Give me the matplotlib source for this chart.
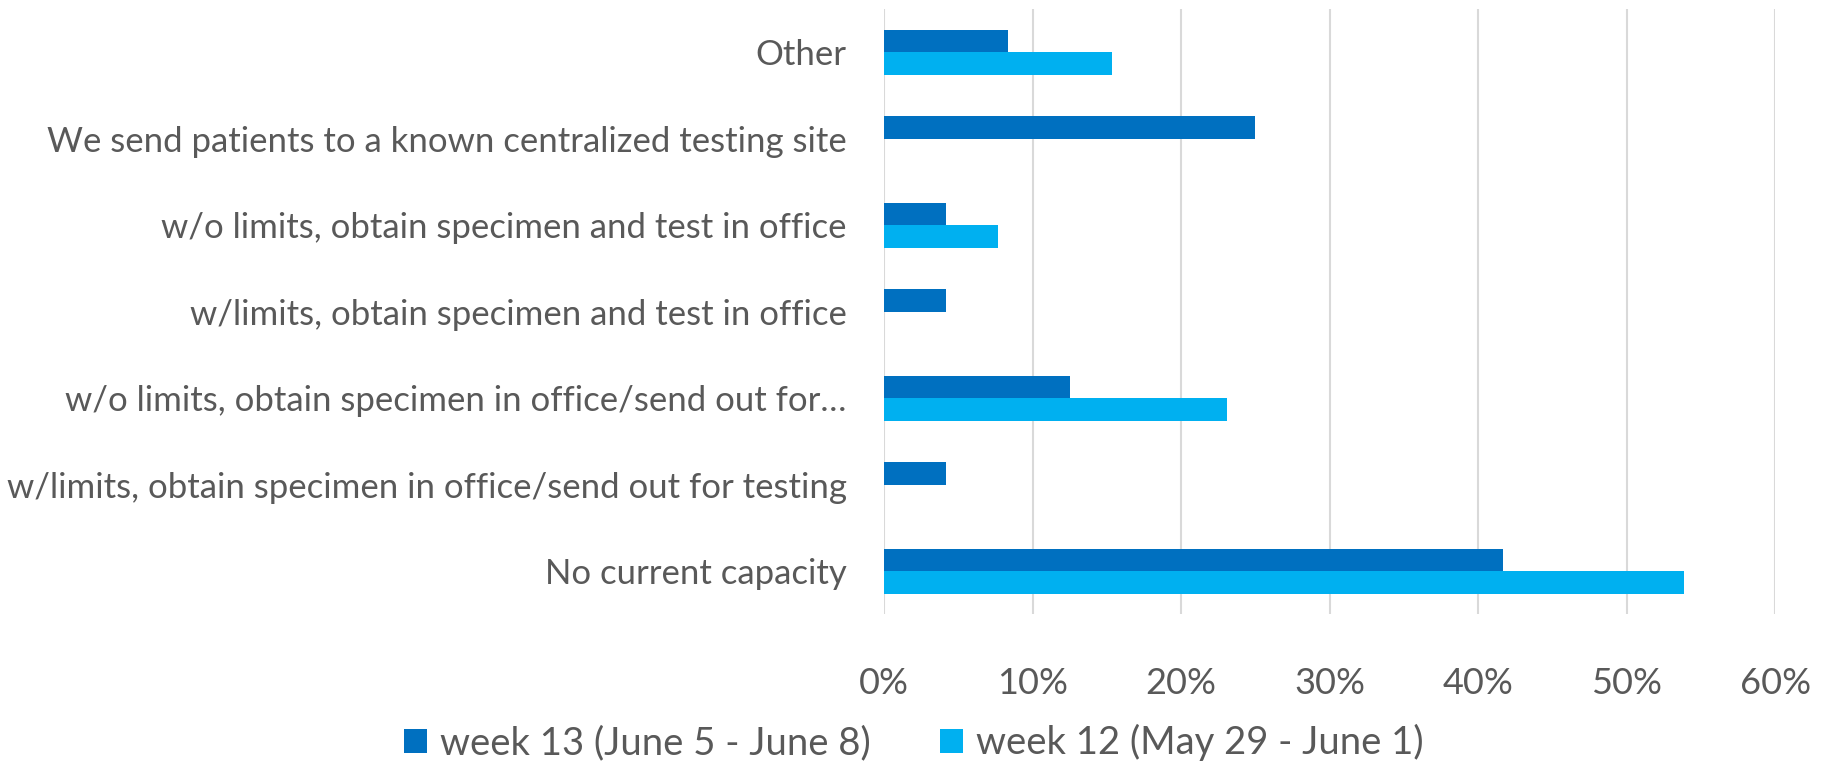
import numpy as np
import matplotlib.pyplot as plt

plt.rcParams['font.family'] = ['Lato', 'DejaVu Sans']

categories = [
    'No current capacity',
    'w/limits, obtain specimen in office/send out for testing',
    'w/o limits, obtain specimen in office/send out for…',
    'w/limits, obtain specimen and test in office',
    'w/o limits, obtain specimen and test in office',
    'We send patients to a known centralized testing site',
    'Other',
]
week13 = [41.67, 4.17, 12.5, 4.17, 4.17, 25.0, 8.33]
week12 = [53.85, 0.0, 23.08, 0.0, 7.69, 0.0, 15.38]
labels = ['week 13 (June 5 - June 8)', 'week 12 (May 29 - June 1)']

dark = '#0070C0'
light = '#00B0F0'
grey = '#595959'

fig = plt.figure(figsize=(18.28, 7.65), dpi=100)
ax = fig.add_axes([0.4836, 0.197, 0.4875, 0.791])

y = np.arange(len(categories))
h = 0.26
ax.barh(y + h / 2, week13, height=h, color=dark, label=labels[0], zorder=3)
ax.barh(y - h / 2, week12, height=h, color=light, label=labels[1], zorder=3)

ax.set_xlim(0, 60)
ax.set_ylim(-0.5, len(categories) - 0.5)
ax.set_xticks(range(0, 61, 10))
ax.set_xticklabels([f'{v}%' for v in range(0, 61, 10)])
ax.set_yticks(y)
ax.set_yticklabels(categories)

ax.grid(axis='x', color='#D9D9D9', linewidth=1.5, zorder=0)
for s in ax.spines.values():
    s.set_visible(False)
ax.tick_params(axis='x', length=0, pad=38, labelsize=26, labelcolor=grey)
ax.tick_params(axis='y', length=0, pad=27, labelsize=25, labelcolor=grey)

leg = fig.legend(loc='lower center', bbox_to_anchor=(0.5, -0.04), ncol=2,
                 frameon=False, fontsize=27.5, labelcolor=grey,
                 handlelength=0.6, handleheight=0.6, columnspacing=1.8,
                 handletextpad=0.35)

fig.savefig('out.png', dpi=100)
